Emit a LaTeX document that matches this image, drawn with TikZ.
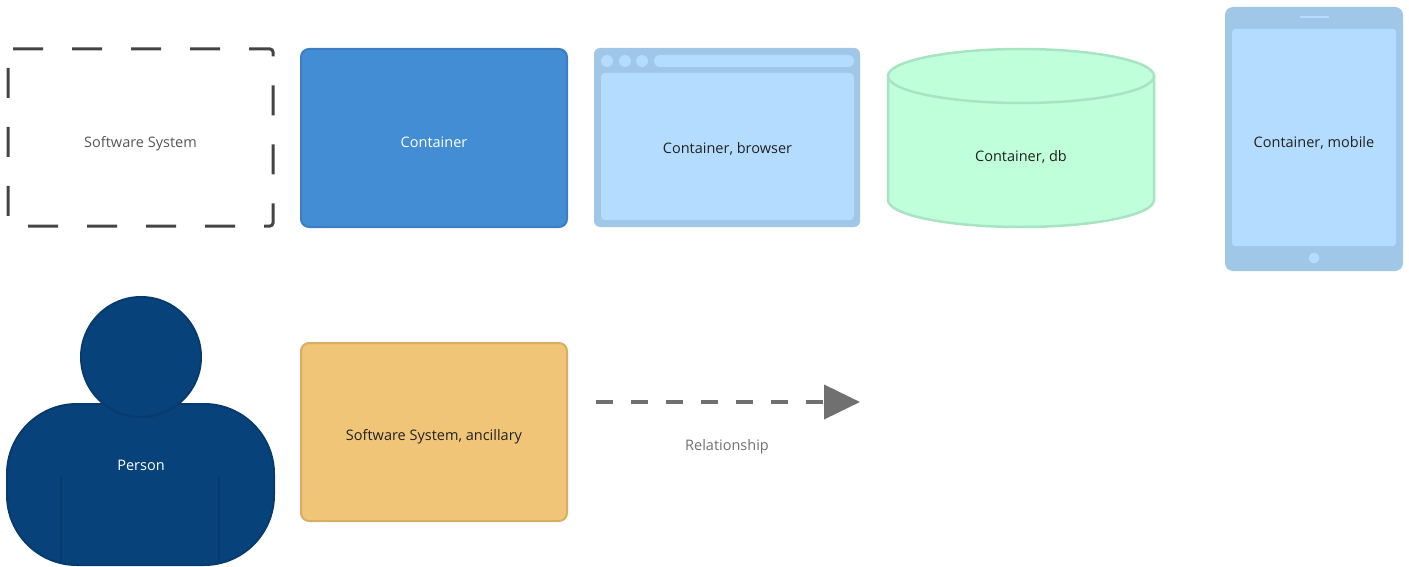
\documentclass[tikz,border=0pt]{standalone}
\usepackage{fontspec}
\setmainfont{Open Sans}
\usetikzlibrary{positioning,arrows.meta}

\definecolor{sysgray}{HTML}{444444}
\definecolor{contblue}{HTML}{438DD5}
\definecolor{contborder}{HTML}{3C7EC0}
\definecolor{webframe}{HTML}{A0C6E8}
\definecolor{webfill}{HTML}{B3DCFF}
\definecolor{dbfill}{HTML}{BFFFDA}
\definecolor{dbborder}{HTML}{A8E4C2}
\definecolor{personblue}{HTML}{08427B}
\definecolor{personborder}{HTML}{063B6E}
\definecolor{ancfill}{HTML}{F0C577}
\definecolor{ancborder}{HTML}{D8AD64}
\definecolor{relgray}{HTML}{707070}
\definecolor{darktext}{HTML}{222222}

\tikzset{
  label font/.style={font=\fontsize{14.5}{17}\selectfont, inner sep=0pt},
  label text/.style={label font, anchor=base},
  box/.style={label font, text height=16pt, text depth=0pt, minimum width=266pt, minimum height=178pt, rounded corners=8pt, line width=2pt},
  container/.style={box, text height=19pt, fill=contblue, draw=contborder, text=white},
  ancillary/.style={box, fill=ancfill, draw=ancborder, text=darktext},
  relation/.style={relgray, line width=4pt, dash pattern=on 17pt off 18pt, -{Triangle[length=36pt,width=34pt]}}
}

\begin{document}
\begin{tikzpicture}[x=1pt, y=-1pt]
    \useasboundingbox (0,0) rectangle (1409,567);

    % Software system (dashed outline)
    \draw[sysgray, line width=3pt, rounded corners=3pt, dash pattern=on 30pt off 29pt, dash phase=57pt]
        (8,49) -- (273,49) -- (273,226) -- (8,226) -- cycle;
    \node[label text, text=sysgray!90] (system) at (140.5,148) {Software System};

    % Container
    \node[container] (container) at (434,138) {Container};

    % Browser container
    \fill[webframe, rounded corners=6pt] (594,48) rectangle (860,227);
    \fill[webfill, rounded corners=4pt] (601,73) rectangle (854,220);
    \foreach \x in {607,625,642}
        \fill[webfill] (\x,61) circle (6pt);
    \fill[webfill, rounded corners=6pt] (654,55) rectangle (854,67);
    \node[label text, text=darktext] (browser) at (727.5,154) {Container, browser};

    % Database container
    \filldraw[fill=dbfill, draw=dbborder, line width=2.5pt]
        (888,76) -- (888,200) arc[start angle=180, end angle=360, x radius=133pt, y radius=27pt] -- (1154,76) -- cycle;
    \filldraw[fill=dbfill, draw=dbborder, line width=2.5pt] (1021,76) ellipse [x radius=133pt, y radius=27pt];
    \node[label text, text=darktext] (db) at (1021,162) {Container, db};

    % Mobile container
    \fill[webframe, rounded corners=8pt] (1225,7) rectangle (1403,271);
    \fill[webfill, rounded corners=3pt] (1232,29) rectangle (1396,246);
    \draw[webfill, line width=2pt] (1300,17) -- (1329,17);
    \fill[webfill] (1314,258) circle (5.5pt);
    \node[label text, text=darktext] (mobile) at (1314,148) {Container, mobile};

    % Person
    \filldraw[fill=personblue, draw=personborder, line width=2pt, rounded corners=70pt] (7,404) rectangle (274,565);
    \draw[personborder, line width=1.5pt] (61,476) -- (61,564);
    \draw[personborder, line width=1.5pt] (219,476) -- (219,564);
    \filldraw[fill=personblue, draw=personborder, line width=2pt] (141,357) circle (60pt);
    \node[label text, text=white] (person) at (141,470) {Person};

    % Ancillary software system
    \node[ancillary] (ancillary) at (434,432) {Software System, ancillary};

    % Relationship
    \coordinate (rel start) at (596,402);
    \coordinate (rel end) at (860,402);
    \draw[relation] (rel start) -- (rel end);
    \node[label text, text=relgray] (rel label) at (727,450) {Relationship};
\end{tikzpicture}
\end{document}
